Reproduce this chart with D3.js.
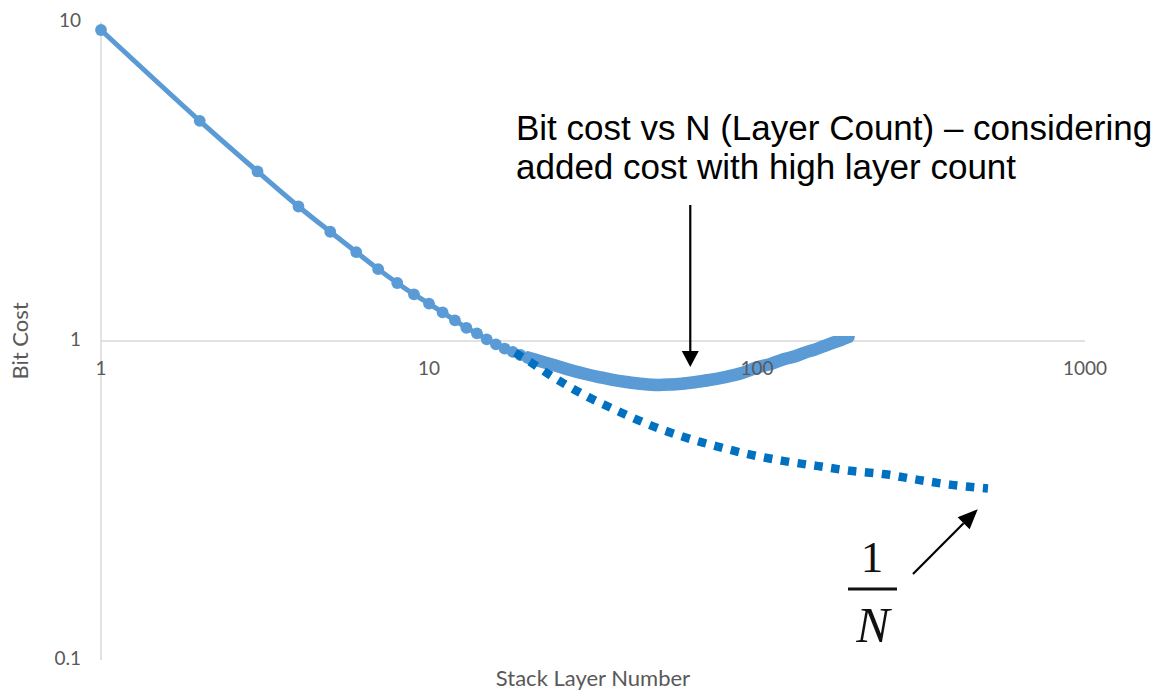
<!DOCTYPE html>
<html>
<head>
<meta charset="utf-8">
<script src="https://cdn.jsdelivr.net/npm/d3@7"></script>
<style>
  html, body { margin: 0; padding: 0; background: #ffffff; }
  svg { display: block; }
</style>
</head>
<body>
<svg id="chart" width="1158" height="690"></svg>
<script>
// Bit cost per layer count, with the extra cost of very tall stacks
const layersMain = [1, 2, 3, 4, 5, 6, 7, 8, 9, 10, 11, 12, 13, 14, 15, 16, 17, 18, 19, 20,
  22, 24, 26, 28, 30, 33, 36, 40, 45, 50, 55, 60, 70, 80, 90, 100, 110, 120, 130, 140,
  150, 160, 170, 180, 190];
const costMain = [9.44, 4.90, 3.40, 2.64, 2.20, 1.90, 1.68, 1.52, 1.40, 1.31, 1.23, 1.16, 1.10, 1.057, 1.012,
  0.976, 0.947, 0.924, 0.904, 0.888,
  0.863, 0.841, 0.820, 0.802, 0.788, 0.771, 0.757, 0.744, 0.733, 0.728, 0.731, 0.736, 0.752, 0.771, 0.794,
  0.826, 0.847, 0.875, 0.894, 0.920, 0.940, 0.964, 0.986, 1.007, 1.029];

// Ideal 1/N trend (no added cost)
const layersIdeal = [18.3, 20.3, 24.7, 30.5, 37.7, 47.2, 59.5, 74.5, 93.9, 120, 152, 192, 246, 310, 392, 506];
const costIdeal = [0.919, 0.861, 0.755, 0.668, 0.603, 0.545, 0.501, 0.469, 0.442, 0.421, 0.406, 0.392,
  0.382, 0.367, 0.354, 0.345];

const xTicks = [1, 10, 100, 1000];
const yTicks = [0.1, 1, 10];
const xTickLabels = ["1", "10", "100", "1000"];
const yTickLabels = ["0.1", "1", "10"];

const titleLines = ["Bit cost vs N (Layer Count) \u2013 considering", "added cost with high layer count"];

const svg = d3.select("#chart");
const W = 1158, H = 690;

const x = d3.scaleLog().domain([1, 1000]).range([101, 1085]);
const y = d3.scaleLog().domain([0.1, 10]).range([660, 22]);

const axisColor = "#d9d9d9";
const labelColor = "#595959";
const labelFont = "Lato, 'Open Sans', sans-serif";

// Vertical value axis line
svg.append("line")
  .attr("x1", x(1)).attr("x2", x(1))
  .attr("y1", y(10)).attr("y2", y(0.1))
  .attr("stroke", axisColor).attr("stroke-width", 1.5);

// Horizontal category axis crosses at cost = 1
svg.append("line")
  .attr("x1", x(1)).attr("x2", x(1000))
  .attr("y1", y(1)).attr("y2", y(1))
  .attr("stroke", axisColor).attr("stroke-width", 1.5);

// Axis titles
svg.append("text")
  .attr("x", 593).attr("y", 680)
  .attr("text-anchor", "middle").attr("dominant-baseline", "middle")
  .attr("font-family", labelFont).attr("font-size", 22)
  .attr("fill", labelColor)
  .text("Stack Layer Number");

svg.append("text")
  .attr("transform", `translate(22,${y(1)}) rotate(-90)`)
  .attr("text-anchor", "middle").attr("dominant-baseline", "middle")
  .attr("font-family", labelFont).attr("font-size", 22)
  .attr("fill", labelColor)
  .text("Bit Cost");

// Series
const mainData = layersMain.map((n, i) => ({ n, c: costMain[i] }));
const idealData = layersIdeal.map((n, i) => ({ n, c: costIdeal[i] }));

const lineGen = d3.line().x(d => x(d.n)).y(d => y(d.c)).curve(d3.curveCatmullRom.alpha(0.5));

// The main series is cut off just above the cost = 1 line on the right side
const defs = svg.append("defs");
const clip = defs.append("clipPath").attr("id", "mainClip");
clip.append("rect").attr("x", 0).attr("y", 0).attr("width", x(100)).attr("height", H);
clip.append("rect").attr("x", x(100)).attr("y", y(1.037)).attr("width", W - x(100)).attr("height", H);

const mainColor = "#5b9bd5";
const idealColor = "#0070c0";

const gMain = svg.append("g").attr("clip-path", "url(#mainClip)");

gMain.append("path")
  .datum(mainData)
  .attr("d", lineGen)
  .attr("fill", "none")
  .attr("stroke", mainColor)
  .attr("stroke-width", 5)
  .attr("stroke-linejoin", "round");

gMain.append("g").selectAll("circle").data(mainData).join("circle")
  .attr("cx", d => x(d.n))
  .attr("cy", d => y(d.c))
  .attr("r", 5.9)
  .attr("fill", mainColor);

// Where markers crowd together they merge into a solid band
gMain.append("path")
  .datum(mainData.filter(d => d.n >= 20))
  .attr("d", lineGen)
  .attr("fill", "none")
  .attr("stroke", mainColor)
  .attr("stroke-width", 12.5)
  .attr("stroke-linejoin", "round")
  .attr("stroke-linecap", "round");

svg.append("path")
  .datum(idealData)
  .attr("d", lineGen)
  .attr("fill", "none")
  .attr("stroke", idealColor)
  .attr("stroke-width", 8.5)
  .attr("stroke-dasharray", "8.5 8.5")
  .attr("stroke-linecap", "butt");

// Tick labels sit on top of the series
svg.append("g").selectAll("text").data(xTicks).join("text")
  .attr("x", d => x(d))
  .attr("y", y(1) + 29)
  .attr("text-anchor", "middle")
  .attr("dominant-baseline", "middle")
  .attr("font-family", labelFont).attr("font-size", 19)
  .attr("fill", labelColor)
  .text((d, i) => xTickLabels[i]);

svg.append("g").selectAll("text").data(yTicks).join("text")
  .attr("x", x(1) - 20)
  .attr("y", d => y(d))
  .attr("text-anchor", "end")
  .attr("dominant-baseline", "middle")
  .attr("font-family", labelFont).attr("font-size", 19)
  .attr("fill", labelColor)
  .text((d, i) => yTickLabels[i]);

// Annotations
svg.append("g").selectAll("text").data(titleLines).join("text")
  .attr("x", 516)
  .attr("y", (d, i) => 140 + i * 39)
  .attr("font-family", "'Liberation Sans', Arial, sans-serif")
  .attr("font-size", 35)
  .attr("fill", "#000")
  .text(d => d);

function arrow(x1, y1, x2, y2, headLen, headHalf) {
  const ang = Math.atan2(y2 - y1, x2 - x1);
  const bx = x2 - headLen * Math.cos(ang), by = y2 - headLen * Math.sin(ang);
  svg.append("line")
    .attr("x1", x1).attr("y1", y1).attr("x2", bx).attr("y2", by)
    .attr("stroke", "#000").attr("stroke-width", 2.2);
  const px = -Math.sin(ang), py = Math.cos(ang);
  svg.append("path")
    .attr("d", `M${x2},${y2}L${bx + px * headHalf},${by + py * headHalf}L${bx - px * headHalf},${by - py * headHalf}Z`)
    .attr("fill", "#000");
}

// Arrow pointing at the cost minimum region
arrow(x(62.6), 205, x(62.6), y(0.829), 16, 8.5);
// Arrow pointing at the end of the 1/N trend
arrow(913, 574, x(471), y(0.297), 20, 8.5);

// 1/N fraction label
const frac = svg.append("g").attr("font-family", "'Liberation Serif', 'Times New Roman', serif").attr("fill", "#111");
frac.append("text").attr("x", 872).attr("y", 572).attr("text-anchor", "middle")
  .attr("font-size", 45).text("1");
frac.append("line").attr("x1", 848).attr("x2", 897).attr("y1", 589).attr("y2", 589)
  .attr("stroke", "#111").attr("stroke-width", 3);
frac.append("text").attr("x", 873).attr("y", 642).attr("text-anchor", "middle")
  .attr("font-size", 50).attr("font-style", "italic").text("N");
</script>
</body>
</html>
